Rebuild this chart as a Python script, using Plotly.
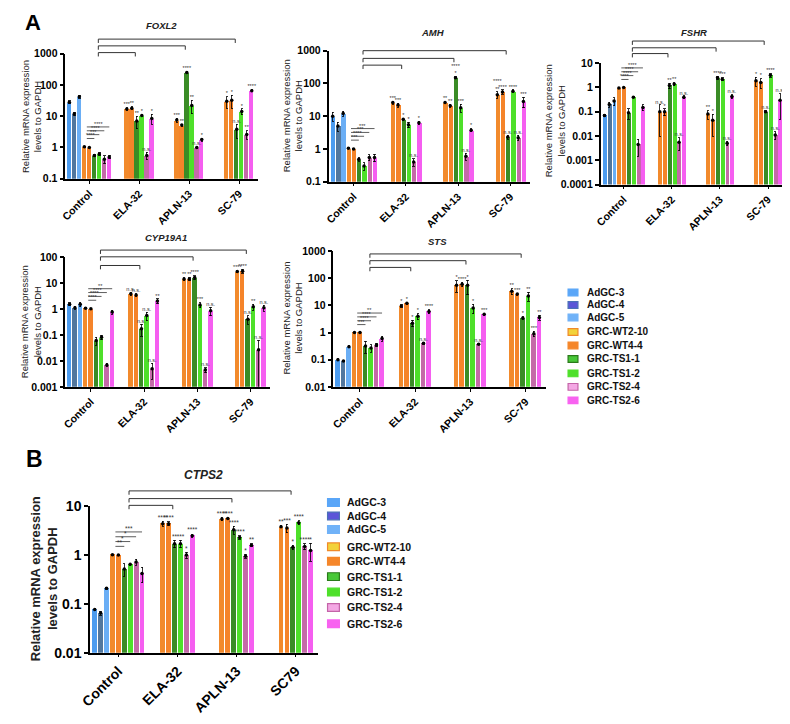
import math
import plotly.graph_objects as go

# the page adds an 8px body margin, so the figure is made 16px smaller
PAGE_W, PAGE_H, PAD = 790, 724, 8
W, H = PAGE_W - 2 * PAD, PAGE_H - 2 * PAD

series = ["AdGC-3", "AdGC-4", "AdGC-5", "GRC-WT2-10", "GRC-WT4-4",
          "GRC-TS1-1", "GRC-TS1-2", "GRC-TS2-4", "GRC-TS2-6"]
bar_colors = ["#4c9cf0", "#52779e", "#6aaef5", "#f28a2c", "#f5842a",
              "#3a8c26", "#4ee02a", "#c46aa8", "#f55ef0"]
leg_fill = ["#5aa6f8", "#5b55d8", "#70b2f8", "#f2d23a", "#f5862a",
            "#48c838", "#4ee02a", "#f4a8e4", "#f862f0"]
leg_line = ["#5aa6f8", "#4a70b8", "#70b2f8", "#f08a2a", "#f5862a",
            "#2a7a1a", "#4ee02a", "#c464a8", "#f862f0"]

groups_a = ["Control", "ELA-32", "APLN-13", "SC-79"]
groups_b = ["Control", "ELA-32", "APLN-13", "SC79"]

# means: Control has all 9 series, treated groups only the 6 GRC lines
foxl2_means = [[28, 12, 42, 1.05, 1.0, 0.55, 0.62, 0.42, 0.5],
               [17, 18, 7, 10.5, 0.55, 8.5],
               [7.5, 5.2, 250, 22, 1.0, 1.8],
               [30, 32, 3.8, 14, 2.6, 65]]
foxl2_sd = [[3, 1.5, 4, 0.05, 0.03, 0.03, 0.06, 0.12, 0.07],
            [1.5, 2, 3, 1, 0.15, 3],
            [1, 0.4, 20, 10, 0.1, 0.2],
            [12, 14, 1.8, 3, 0.8, 5]]
foxl2_stars = [["***", "**", "**", "*", "n.s.", "*"],
               ["***", "**", "****", "**", "n.s.", "*"],
               ["*", "*", "n.s.", "*", "**", "****"]]
foxl2_ctrl_sig = ["****", "***", "****", "****"]

amh_means = [[10, 5, 12, 1.05, 1.0, 0.48, 0.3, 0.55, 0.55],
             [26, 22, 8, 5.5, 0.4, 6.3],
             [26, 21, 150, 18, 0.6, 3.7],
             [45, 55, 2.3, 58, 2.2, 28]]
amh_sd = [[3, 1.5, 2, 0.03, 0.03, 0.06, 0.08, 0.12, 0.15],
          [3, 3, 0.5, 1, 0.1, 0.8],
          [2, 2, 10, 5, 0.15, 0.4],
          [10, 8, 0.3, 5, 0.4, 10]]
amh_stars = [["***", "***", "*", "*", "n.s.", "*"],
             ["**", "**", "****<br>*", "***", "n.s.", "*"],
             ["****<br>**", "****", "n.s.", "****", "n.s.", "***"]]
amh_ctrl_sig = ["***", "****", "***", "***"]

fshr_means = [[0.07, 0.2, 0.28, 0.95, 1.0, 0.09, 0.4, 0.0045, 0.15],
              [0.1, 0.1, 1.2, 1.4, 0.0055, 0.4],
              [0.08, 0.045, 2.5, 2.2, 0.005, 0.42],
              [1.9, 1.6, 0.1, 3.2, 0.011, 0.3]]
fshr_sd = [[0.005, 0.05, 0.1, 0.05, 0.03, 0.04, 0.03, 0.003, 0.04],
           [0.09, 0.03, 0.3, 0.2, 0.003, 0.05],
           [0.03, 0.035, 0.4, 0.3, 0.001, 0.08],
           [0.8, 0.7, 0.01, 0.5, 0.004, 0.25]]
fshr_stars = [["n.s.", "*", "**", "**", "n.s.", "n.s."],
              ["**", "*", "****", "***", "n.s.", "n.s."],
              ["*", "*", "n.s.", "****", "n.s.", "n.s."]]
fshr_ctrl_sig = ["****", "****", "****", "****"]

cyp19a1_means = [[1.5, 1.1, 1.5, 1.05, 1.0, 0.06, 0.08, 0.007, 0.75],
                 [3.8, 3.4, 0.17, 0.55, 0.005, 2.0],
                 [14, 14, 16, 1.4, 0.0045, 0.85],
                 [27, 28, 0.4, 1.2, 0.027, 1.1]]
cyp19a1_sd = [[0.2, 0.15, 0.3, 0.03, 0.03, 0.02, 0.015, 0.001, 0.12],
              [0.6, 0.4, 0.08, 0.2, 0.003, 0.4],
              [2, 2, 3, 0.3, 0.001, 0.3],
              [3, 5, 0.15, 0.3, 0.035, 0.3]]
cyp19a1_stars = [["n.s.", "n.s.", "n.s.", "n.s.", "n.s.", "**"],
                 ["**", "**", "****", "***", "n.s.", "n.s."],
                 ["****", "****", "n.s.", "**", "n.s.", "n.s."]]
cyp19a1_ctrl_sig = ["****", "****", "****", "**"]

sts_means = [[0.1, 0.09, 0.3, 1.0, 1.0, 0.32, 0.27, 0.35, 0.6],
             [9.5, 12, 2.2, 4, 0.4, 6],
             [55, 60, 55, 8, 0.37, 4.7],
             [33, 26, 3.4, 22, 0.9, 3.6]]
sts_sd = [[0.01, 0.005, 0.02, 0.02, 0.02, 0.15, 0.08, 0.05, 0.12],
          [1, 1, 0.6, 1, 0.04, 1],
          [25, 12, 30, 3, 0.02, 0.3],
          [8, 2, 0.4, 8, 0.2, 0.8]]
sts_stars = [["*", "*", "*", "*", "n.s.", "****"],
             ["*", "****", "*", "*", "n.s.", "***"],
             ["**", "***", "*", "**", "***", "**"]]
sts_ctrl_sig = ["***", "****", "****", "**"]

ctps2_means = [[0.077, 0.065, 0.21, 1.02, 1.0, 0.52, 0.65, 0.72, 0.42],
               [4.4, 4.4, 1.7, 1.7, 1.0, 2.5],
               [5.5, 5.6, 3.3, 2.3, 0.95, 1.6],
               [3.8, 3.6, 1.45, 4.6, 1.5, 1.25]]
ctps2_sd = [[0.004, 0.006, 0.008, 0.03, 0.01, 0.15, 0.03, 0.1, 0.15],
            [0.5, 0.4, 0.3, 0.3, 0.15, 0.2],
            [0.4, 0.3, 0.6, 0.2, 0.08, 0.1],
            [0.2, 0.7, 0.15, 0.4, 0.2, 0.5]]
ctps2_stars = [["****", "****", "**", "***", "*", "****"],
               ["****", "****", "****", "****", "*", "**"],
               ["**", "***", "*", "****", "****", "*"]]
ctps2_ctrl_sig = ["**", "*", "*", "***"]

# layout of each small chart, in pixels of the 790x724 picture
panels = [
    dict(gene="FOXL2", means=foxl2_means, sd=foxl2_sd, stars=foxl2_stars, sig=foxl2_ctrl_sig,
         groups=groups_a, left=55, step=50.7, top=47, bottom=177, yr=(-1, 3),
         title=(153, 18), ytitle=(20, 112), brackets=(46, 39, 32),
         ytf=10.5, xtf=10.5, ttf=9.5, yttf=9.5, star=5.5, sigstep=4),
    dict(gene="AMH", means=amh_means, sd=amh_sd, stars=amh_stars, sig=amh_ctrl_sig,
         groups=groups_a, left=322, step=53, top=44, bottom=180, yr=(-1, 3),
         title=(428, 25), ytitle=(285, 112), brackets=(59, 52, 44),
         ytf=10.5, xtf=10.5, ttf=9.5, yttf=9.5, star=5.5, sigstep=4),
    dict(gene="FSHR", means=fshr_means, sd=fshr_sd, stars=fshr_stars, sig=fshr_ctrl_sig,
         groups=groups_a, left=598, step=48.8, top=57, bottom=183, yr=(-4, 1),
         title=(693, 25), ytitle=(552, 117), brackets=(47, 41, 34),
         ytf=10.5, xtf=10.5, ttf=9.5, yttf=9.5, star=5.5, sigstep=4),
    dict(gene="CYP19A1", means=cyp19a1_means, sd=cyp19a1_sd, stars=cyp19a1_stars, sig=cyp19a1_ctrl_sig,
         groups=groups_a, left=55, step=54, top=258, bottom=393, yr=(-3, 2),
         title=(157, 238), ytitle=(20, 325), brackets=(267, 258, 251),
         ytf=10.5, xtf=10.5, ttf=9.5, yttf=9.5, star=5.5, sigstep=4),
    dict(gene="STS", means=sts_means, sd=sts_sd, stars=sts_stars, sig=sts_ctrl_sig,
         groups=groups_a, left=327, step=56, top=252, bottom=393, yr=(-2, 3),
         title=(433, 242), ytitle=(285, 322), brackets=(269, 262, 255),
         ytf=10.5, xtf=10.5, ttf=9.5, yttf=9.5, star=5.5, sigstep=4),
    dict(gene="CTPS2", means=ctps2_means, sd=ctps2_sd, stars=ctps2_stars, sig=ctps2_ctrl_sig,
         groups=groups_b, left=80, step=60, top=517, bottom=669, yr=(-2, 1),
         title=(195, 484), ytitle=(33, 592), brackets=(516, 509, 501),
         ytf=14, xtf=14, ttf=12, yttf=13, star=6.5, sigstep=5),
]

SLOT = 0.1
BARW = 0.082
X0, X1 = -0.48, 3.37


def fx(px):
    return (px - PAD) / W


def fy(py):
    return 1 - (py - PAD) / H


def slot_x(g, i):
    # i is the series index (0..8)
    if g == 0:
        return (i - 4) * SLOT
    return g + (i - 3 - 2.5) * SLOT


def py_of(v, p):
    y0, y1 = p["yr"]
    return p["top"] + (y1 - math.log10(v)) / (y1 - y0) * (p["bottom"] - p["top"])


fig = go.Figure()
shapes = []
annotations = []
layout = {}

for k, p in enumerate(panels, 1):
    ax = "" if k == 1 else str(k)
    xa, ya = "x" + ax, "y" + ax
    right = min(p["left"] + (X1 - X0) * p["step"], PAGE_W - PAD)
    x1 = X0 + (right - p["left"]) / p["step"]

    star_x, star_y, star_t = [], [], []
    dot_x, dot_y = [], []
    for i, name in enumerate(series):
        xs, ys, es = [], [], []
        for g in range(4):
            if g == 0:
                m, s = p["means"][0][i], p["sd"][0][i]
            elif i >= 3:
                m, s = p["means"][g][i - 3], p["sd"][g][i - 3]
                star_x.append(slot_x(g, i))
                star_y.append(m + s)
                star_t.append(p["stars"][g - 1][i - 3])
            else:
                continue
            xs.append(slot_x(g, i))
            ys.append(m)
            es.append(s)
            dot_x.append(slot_x(g, i))
            dot_y.append(m)
        fig.add_trace(go.Bar(
            x=xs, y=ys, width=BARW, name=name, showlegend=False,
            marker=dict(color=bar_colors[i], line=dict(width=0)),
            error_y=dict(type="data", array=es, color="black", thickness=0.8, width=1.2),
            xaxis=xa, yaxis=ya))

    fig.add_trace(go.Scatter(x=dot_x, y=dot_y, mode="markers", showlegend=False,
                             marker=dict(color="black", size=3.5), xaxis=xa, yaxis=ya))
    fig.add_trace(go.Scatter(x=star_x, y=star_y, mode="text", text=star_t, showlegend=False,
                             textposition="top center", cliponaxis=False,
                             textfont=dict(family="Arial", size=p["star"], color="#333"),
                             xaxis=xa, yaxis=ya))

    y0, y1 = p["yr"]
    tv = [10.0 ** e for e in range(y0, y1 + 1)]
    layout["xaxis" + ax] = dict(
        domain=[fx(p["left"]), fx(right)], range=[X0, x1], anchor=ya,
        tickvals=[0, 1, 2, 3], ticktext=p["groups"], tickangle=-45,
        showline=True, linecolor="black", linewidth=1.5, ticks="outside",
        ticklen=3, tickwidth=1.2, tickcolor="black", showgrid=False, zeroline=False,
        tickfont=dict(family="Arial", size=p["xtf"], color="black", weight="bold"))
    layout["yaxis" + ax] = dict(
        domain=[fy(p["bottom"]), fy(p["top"])], type="log", range=[y0, y1], anchor=xa,
        tickvals=tv, ticktext=[f"{v:g}" for v in tv],
        showline=True, linecolor="black", linewidth=1.5, ticks="outside",
        ticklen=4, tickwidth=1.5, tickcolor="black", showgrid=False, zeroline=False,
        tickfont=dict(family="Arial", size=p["ytf"], color="black", weight="bold"))

    # gene title and y title
    annotations.append(dict(x=fx(p["title"][0]), y=fy(p["title"][1]), xref="paper", yref="paper",
                            xanchor="center", yanchor="middle",
                            text="<b><i>%s</i></b>" % p["gene"], showarrow=False,
                            font=dict(family="Arial", size=p["ttf"], color="#222")))
    annotations.append(dict(x=fx(p["ytitle"][0]), y=fy(p["ytitle"][1]), xref="paper", yref="paper",
                            xanchor="center", yanchor="middle",
                            text="Relative mRNA expression<br>levels to GAPDH", textangle=-90,
                            showarrow=False,
                            font=dict(family="Arial", size=p["yttf"], color="#222",
                                      weight="bold" if k == 6 else "normal")))

    # brackets from Control to each treatment
    for g, byp in zip([1, 2, 3], p["brackets"]):
        xa0, xa1 = 0.18, g - 0.08
        yt, yb = fy(byp), fy(byp + 4)
        shapes.append(dict(type="path", xref=xa, yref="paper",
                           path=f"M {xa0},{yb} L {xa0},{yt} L {xa1},{yt} L {xa1},{yb}",
                           line=dict(color="#333", width=1)))

    # significance lines inside the Control group
    c_means, c_sd = p["means"][0], p["sd"][0]
    base = min(py_of(c_means[j] + c_sd[j], p) for j in (3, 4)) - 8
    for lvl, (tgt, txt) in enumerate(zip([5, 6, 7, 8], p["sig"])):
        yl = base - lvl * p["sigstep"]
        lx0, lx1 = slot_x(0, 3) + 0.05, slot_x(0, tgt)
        shapes.append(dict(type="line", xref=xa, yref="paper", x0=lx0, x1=lx1,
                           y0=fy(yl), y1=fy(yl), line=dict(color="#333", width=0.8)))
        annotations.append(dict(x=(lx0 + lx1) / 2, y=fy(yl), xref=xa, yref="paper",
                                xanchor="center", yanchor="bottom", yshift=-2,
                                text=txt, showarrow=False,
                                font=dict(family="Arial", size=p["star"], color="#333")))

# hand-made legends (panel A and panel B)
legend_rows_a = [295, 308, 321, 336, 350, 364, 379, 393, 407]
legend_rows_b = [513, 527, 541, 559, 574, 590, 606, 622, 639]
for rows, sx, sw, sh, tx, fs in [(legend_rows_a, 565, 10, 7, 582, 10),
                                 (legend_rows_b, 321, 12, 8, 339, 10.5)]:
    for i, (name, yc) in enumerate(zip(series, rows)):
        shapes.append(dict(type="rect", xref="paper", yref="paper",
                           x0=fx(sx), x1=fx(sx + sw), y0=fy(yc + sh / 2), y1=fy(yc - sh / 2),
                           fillcolor=leg_fill[i], line=dict(color=leg_line[i], width=1.2)))
        annotations.append(dict(x=fx(tx), y=fy(yc), xref="paper", yref="paper", text="<b>%s</b>" % name,
                                xanchor="left", yanchor="middle", showarrow=False,
                                font=dict(family="Arial", size=fs, color="#111")))

# panel letters
annotations.append(dict(x=fx(12), y=fy(15), xref="paper", yref="paper", text="<b>A</b>",
                        xanchor="left", yanchor="middle", showarrow=False,
                        font=dict(family="Arial", size=22, color="black")))
annotations.append(dict(x=fx(13), y=fy(468), xref="paper", yref="paper", text="<b>B</b>",
                        xanchor="left", yanchor="middle", showarrow=False,
                        font=dict(family="Arial", size=23, color="black")))

fig.update_layout(width=W, height=H, margin=dict(l=0, r=0, t=0, b=0),
                  paper_bgcolor="white", plot_bgcolor="white", barmode="overlay",
                  bargap=0, shapes=shapes, annotations=annotations, **layout)

fig.write_html("out.html")
